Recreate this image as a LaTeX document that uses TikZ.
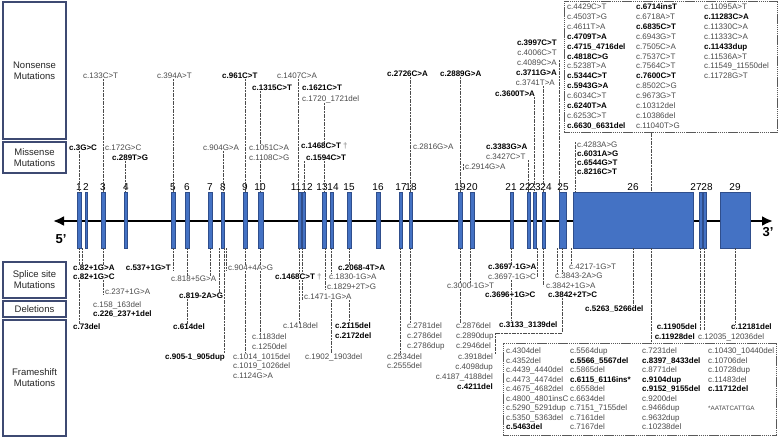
\documentclass[tikz,border=0pt]{standalone}
\usepackage{fontspec}
\setmainfont{Liberation Sans}
\usepackage{tikz}
\usetikzlibrary{positioning,arrows.meta}
\definecolor{exonblue}{HTML}{4472C4}
\definecolor{exonedge}{HTML}{2F4E8C}
\definecolor{boxnavy}{HTML}{3E4A72}
\definecolor{mutgray}{HTML}{4A4A4A}
\newcommand{\B}[1]{{\bfseries\color{black}#1}}
\newcommand{\cola}[1]{\makebox[69pt][l]{#1}}
\newcommand{\colb}[1]{\makebox[68pt][l]{#1}}
\newcommand{\colw}[2]{\makebox[#1][l]{#2}}
\tikzset{
  mut/.style={font=\fontsize{8}{9.5}\selectfont, text=mutgray, inner sep=0pt, anchor=west},
  bmut/.style={mut, font=\fontsize{8}{9.5}\selectfont\bfseries, text=black},
  conn/.style={black!70, line width=0.45pt, dash pattern=on 2pt off 0.7pt},
  exon/.style={fill=exonblue, draw=exonedge, line width=0.4pt, inner sep=0pt, minimum height=56pt},
  exnum/.style={font=\fontsize{10}{12}\selectfont, inner sep=0pt},
  catbox/.style={draw=boxnavy, line width=1.2pt, fill=white, align=center, inner sep=0pt,
    text=black!85, font=\fontsize{9.5}{11}\selectfont},
  mutbox/.style={draw=black!65, line width=0.5pt, dash pattern=on 1.5pt off 0.6pt, inner sep=0pt},
  mutlist/.style={anchor=north west, inner sep=0pt, align=left, text=mutgray}
}

\begin{document}
\begin{tikzpicture}[x=1pt,y=-1pt]
\useasboundingbox (0,0) rectangle (779,437);

% category boxes
\node[catbox, minimum width=63pt, minimum height=137pt] (nons) at (34.5,70.5) {Nonsense\\Mutations};
\node[catbox, minimum width=63pt, minimum height=31pt] (miss) at (34.5,157.5) {Missense\\Mutations};
\node[catbox, minimum width=63pt, minimum height=36pt] (spl) at (34.5,280) {Splice site\\Mutations};
\node[catbox, minimum width=63pt, minimum height=16pt] (dels) at (34.5,309) {Deletions};
\node[catbox, minimum width=63pt, minimum height=116pt] (fs) at (34.5,378) {Frameshift\\Mutations};

% gene line and exons
\coordinate (g5) at (53,221);
\coordinate (g3) at (773,221);
\draw[line width=2.5pt, {Latex[length=11pt,width=10pt]}-{Latex[length=11pt,width=10pt]}] (g5) -- (g3);
\node[font=\fontsize{13}{14}\selectfont\bfseries] (p5) at (61,239) {5’};
\node[font=\fontsize{13}{14}\selectfont\bfseries] (p3) at (768,232) {3’};

\foreach \n/\x/\w in {1/79/4.5, 2/86/2.5, 3/103/3.5, 4/125.5/3.5, 5/173/3.5, 6/187/3.5,
  7/210/3.5, 8/223/3, 9/245/4, 10/260.5/4.5, 11/299.5/3, 12/304/3, 13/324/3.5,
  14/331.5/3.5, 15/349/3.5, 16/378/3.5, 17/400.5/3.5, 18/410.5/3.5, 19/460/3.5,
  20/472/3.5, 21/511.5/3.5, 22/528.5/3, 23/534.5/3, 24/543.5/3, 25/562.5/7,
  26/633/120, 27/700.5/3, 28/704.5/3, 29/735/30}
  \node[exon, minimum width=\w pt] (e\n) at (\x,220) {};

\foreach \n/\x in {1/79, 2/86, 3/103, 4/126, 5/173, 6/187, 7/210, 8/223, 9/245, 10/260,
  11/296, 12/307, 13/322, 14/333, 15/349, 16/378, 17/401, 18/411, 19/460, 20/472,
  21/511, 22/525, 23/535, 24/546, 25/563, 26/633, 27/696, 28/707, 29/735}
  \node[exnum] (n\n) at (\x,187) {\n};

% nonsense (top)
\node[mut] (t133) at (83,76) {c.133C>T};
\node[mut] (t394) at (157,76) {c.394A>T};
\node[bmut] (t961) at (222,76) {c.961C>T};
\node[mut] (t1407) at (277,76) {c.1407C>A};
\node[bmut] (t1315) at (252,88) {c.1315C>T};
\node[bmut] (t1621) at (302,88) {c.1621C>T};
\node[mut] (t1720) at (302,99) {c.1720\_1721del};
\node[bmut] (t2726) at (387,74) {c.2726C>A};
\node[bmut] (t2889) at (440,74) {c.2889G>A};
\node[bmut, anchor=east] (t3997) at (557,43) {c.3997C>T};
\node[mut, anchor=east] (t4006) at (557,53) {c.4006C>T};
\node[mut, anchor=east] (t4089) at (557,63) {c.4089C>A};
\node[bmut, anchor=east] (t3711) at (557,73) {c.3711G>A};
\node[mut, anchor=east] (t3741) at (555,83) {c.3741T>A};
\node[bmut] (t3600) at (495,94) {c.3600T>A};

\node[mutbox, minimum width=213pt, minimum height=131pt, anchor=north west] (tbox) at (564,1) {};
\node[mutlist, font=\fontsize{8}{9.9}\selectfont] (tlist) at (567,3.5) {%
\cola{c.4429C>T}\colb{\B{c.6714insT}}c.11095A>T\\
\cola{c.4503T>G}\colb{c.6718A>T}\B{c.11283C>A}\\
\cola{c.4611T>A}\colb{\B{c.6835C>T}}c.11330C>A\\
\cola{\B{c.4709T>A}}\colb{c.6943G>T}c.11333C>A\\
\cola{\B{c.4715\_4716del}}\colb{c.7505C>A}\B{c.11433dup}\\
\cola{\B{c.4818C>G}}\colb{c.7537C>T}c.11536A>T\\
\cola{c.5238T>A}\colb{c.7564C>T}c.11549\_11550del\\
\cola{\B{c.5344C>T}}\colb{\B{c.7600C>T}}c.11728G>T\\
\cola{\B{c.5943G>A}}\colb{c.8502C>G}\\
\cola{c.6034C>T}\colb{c.9673G>T}\\
\cola{\B{c.6240T>A}}\colb{c.10312del}\\
\cola{c.6253C>T}\colb{c.10386del}\\
\cola{\B{c.6630\_6631del}}\colb{c.11040T>G}};

% missense (top)
\node[bmut] (s3) at (69,148) {c.3G>C};
\node[mut] (s172) at (105,148) {c.172G>C};
\node[bmut] (s289) at (112,158) {c.289T>G};
\node[mut] (s904) at (203,148) {c.904G>A};
\node[mut] (s1051) at (249,148) {c.1051C>A};
\node[mut] (s1108) at (249,158) {c.1108C>G};
\node[bmut] (s1468) at (301,146) {c.1468C>T \textcolor{black!40}{†}};
\node[bmut] (s1594) at (306,158) {c.1594C>T};
\node[mut] (s2816) at (413,147) {c.2816G>A};
\node[mut] (s2914) at (465,167) {c.2914G>A};
\node[bmut] (s3383) at (486,147) {c.3383G>A};
\node[mut] (s3427) at (486,157) {c.3427C>T};
\node[mut] (s4283) at (577,145) {c.4283A>G};
\node[bmut] (s6031) at (577,154) {c.6031A>G};
\node[bmut] (s6544) at (577,163) {c.6544G>T};
\node[bmut] (s8216) at (577,172) {c.8216C>T};

% top connectors
\draw[conn] (t133.south -| e3) -- (e3.north);
\draw[conn] (t394.south -| e5) -- (e5.north);
\draw[conn] (t961.south -| e9) -- (e9.north);
\draw[conn] (t1407.south -| e11.west) -- (e11.north west);
\draw[conn] (t1315.south -| e10) -- (s1051.north -| e10);
\draw[conn] (s1108.south -| e10) -- (e10.north);
\draw[conn] (t1720.south -| e13) -- (s1468.north -| e13);
\draw[conn] (s1594.south -| e13) -- (e13.north);
\draw[conn] (s1594.south -| e12) -- (e12.north);
\draw[conn] (t2726.south -| e18) -- (e18.north);
\draw[conn] (t2889.south -| e19) -- (e19.north);
\draw[conn] (t3600.south -| e23) -- (e23.north);
\draw[conn] (t3741.south -| e24) -- (e24.north);
\draw[conn] (t4089.north -| e25.west) -- (e25.north west);
\draw[conn] (s3.south -| e1) -- (e1.north);
\draw[conn] (s289.south -| e4) -- (e4.north);
\draw[conn] (s904.south -| e8) -- (e8.north);
\draw[conn] (s3427.south -| e22) -- (e22.north);
\draw[conn] ([xshift=-1.5pt]s2914.north west) -- ([xshift=-1.5pt]s2914.south west);
\draw[conn] ([xshift=-2pt]s4283.north west) -- ([xshift=-2pt]s8216.south west) -- ([xshift=-2pt]s8216.south west |- e26.north);
\draw[conn] ([xshift=-20pt]tbox.south) -- ([xshift=-20pt]tbox.south |- e26.north);

% splice site, deletions, frameshift (bottom)
\node[bmut] (b82A) at (73,268) {c.82+1G>A};
\node[bmut] (b82C) at (73,277) {c.82+1G>C};
\node[mut] (b237) at (105,292) {c.237+1G>A};
\node[mut] (b158) at (93,305) {c.158\_163del};
\node[bmut] (b226) at (93,314) {c.226\_237+1del};
\node[bmut] (b73) at (73,327) {c.73del};
\node[bmut, anchor=east] (b537) at (171,268) {c.537+1G>T};
\node[mut] (b818) at (171,279) {c.818+5G>A};
\node[bmut] (b819) at (179,296) {c.819-2A>G};
\node[bmut] (b614) at (173,327) {c.614del};
\node[bmut] (b905) at (165,357) {c.905-1\_905dup};
\node[mut] (b904) at (228,268) {c.904+4A>G};
\node[mut] (b1014) at (233,357) {c.1014\_1015del};
\node[mut] (b1019) at (233,366) {c.1019\_1026del};
\node[mut] (b1124) at (233,376) {c.1124G>A};
\node[mut] (b1183) at (252,337) {c.1183del};
\node[mut] (b1250) at (252,347) {c.1250del};
\node[mut] (b1418) at (283,326) {c.1418del};
\node[bmut] (b1468) at (275,277) {c.1468C>T \textcolor{black!40}{†}};
\node[mut] (b1830) at (329,277) {c.1830-1G>A};
\node[mut] (b1829) at (327,287) {c.1829+2T>G};
\node[mut] (b1471) at (304,297) {c.1471-1G>A};
\node[bmut] (b2068) at (338,268) {c.2068-4T>A};
\node[bmut] (b2115) at (335,326) {c.2115del};
\node[bmut] (b2172) at (335,336) {c.2172del};
\node[mut] (b1902) at (305,357) {c.1902\_1903del};
\node[mut] (b2534) at (387,357) {c.2534del};
\node[mut] (b2555) at (387,366) {c.2555del};
\node[mut] (b2781) at (407,326) {c.2781del};
\node[mut] (b2786) at (407,336) {c.2786del};
\node[mut] (b2786d) at (407,346) {c.2786dup};
\node[mut] (b3000) at (447,286) {c.3000-1G>T};
\node[mut] (b2876) at (456,326) {c.2876del};
\node[mut] (b2890) at (456,336) {c.2890dup};
\node[mut] (b2946) at (456,346) {c.2946del};
\node[mut, anchor=east] (b3918) at (493,357) {c.3918del};
\node[mut, anchor=east] (b4098) at (493,367) {c.4098dup};
\node[mut, anchor=east] (b4187) at (493,377) {c.4187\_4188del};
\node[bmut, anchor=east] (b4211) at (493,387) {c.4211del};
\node[bmut] (b3697A) at (488,267) {c.3697-1G>A};
\node[mut] (b3697C) at (488,277) {c.3697-1G>C};
\node[bmut] (b3696) at (485,295) {c.3696+1G>C};
\node[bmut] (b3133) at (499,325) {c.3133\_3139del};
\node[mut] (b4217) at (569,267) {c.4217-1G>T};
\node[mut] (b3843) at (555,276) {c.3843-2A>G};
\node[mut] (b3842A) at (546,286) {c.3842+1G>A};
\node[bmut] (b3842T) at (548,295) {c.3842+2T>C};
\node[bmut] (b5263) at (585,309) {c.5263\_5266del};
\node[bmut, anchor=east] (b11905) at (697,327) {c.11905del};
\node[bmut, anchor=east] (b11928) at (695,337) {c.11928del};
\node[bmut] (b12181) at (731,327) {c.12181del};
\node[mut] (b12035) at (698,337) {c.12035\_12036del};

\node[mutbox, minimum width=273pt, minimum height=92pt, anchor=north west] (bbox) at (503,343) {};
\node[mutlist, font=\fontsize{8}{9.5}\selectfont] (blist) at (506,347.5) {%
\colw{64pt}{c.4304del}\colw{72pt}{c.5564dup}\colw{66pt}{c.7231del}c.10430\_10440del\\
\colw{64pt}{c.4352del}\colw{72pt}{\B{c.5566\_5567del}}\colw{66pt}{\B{c.8397\_8433del}}c.10706del\\
\colw{64pt}{c.4439\_4440del}\colw{72pt}{c.5865del}\colw{66pt}{c.8771del}c.10728dup\\
\colw{64pt}{c.4473\_4474del}\colw{72pt}{\B{c.6115\_6116ins*}}\colw{66pt}{\B{c.9104dup}}c.11483del\\
\colw{64pt}{c.4675\_4682del}\colw{72pt}{c.6558del}\colw{66pt}{\B{c.9152\_9155del}}\B{c.11712del}\\
\colw{64pt}{c.4800\_4801insC}\colw{72pt}{c.6634del}\colw{66pt}{c.9200del}\\
\colw{64pt}{c.5290\_5291dup}\colw{72pt}{c.7151\_7155del}\colw{66pt}{c.9466dup}{\fontsize{6.3}{7}\selectfont *AATATCATTGA}\\
\colw{64pt}{c.5350\_5363del}\colw{72pt}{c.7161del}\colw{66pt}{c.9632dup}\\
\colw{64pt}{\B{c.5463del}}\colw{72pt}{c.7167del}\colw{66pt}{c.10238del}};

% bottom connectors
\coordinate (k25) at (495,333);
\draw[conn] (e1.south) -- (e1.south |- b82A.north);
\draw[conn] ([xshift=3pt]e1.south) -- ([xshift=3pt]e1.south |- b82A.north);
\draw[conn] (b82C.south -| e1) -- (b73.north -| e1);
\draw[conn] (e3.south) -- (e3.south |- b82A.north);
\draw[conn] (b82C.south -| e3) -- (b237.south -| e3);
\draw[conn] (e5.south) -- (e5.south |- b537.south);
\draw[conn] (e6.south) -- (e6.south |- b818.north);
\draw[conn] (b819.south -| e6) -- (b614.north -| e6);
\draw[conn] (e7.south) -- (e7.south |- b818.north);
\draw[conn] ([xshift=-4pt]e8.south) -- ([xshift=-4pt]e8.south |- b819.north);
\draw[conn] ([xshift=1pt]e8.south) -- ([xshift=1pt]e8.south |- b905.north);
\draw[conn] ([xshift=3.5pt]e8.south) -- ([xshift=3.5pt]e8.south |- b904.south);
\draw[conn] (e9.south) -- (e9.south |- b904.north);
\draw[conn] (b904.south -| e9) -- (b1014.north -| e9);
\draw[conn] (e10.south) -- (e10.south |- b904.north);
\draw[conn] (b904.south -| e10) -- (b1183.north -| e10);
\draw[conn] (e11.south) -- (e11.south |- b1468.north);
\draw[conn] (b1468.south -| e11) -- (b1418.north -| e11);
\draw[conn] ([xshift=-1.5pt]e12.south) -- ([xshift=-1.5pt]e12.south |- b1468.north);
\draw[conn] ([xshift=-1.5pt]b1468.south -| e12) -- ([xshift=-1.5pt]b1471.south -| e12);
\draw[conn] ([xshift=1.5pt]e13.south) -- ([xshift=1.5pt]e13.south |- b1829.south);
\draw[conn] (e14.south) -- (e14.south |- b1830.north);
\draw[conn] (b1471.south -| e14) -- (b1902.north -| e14);
\draw[conn] (e15.south) -- (e15.south |- b2068.north);
\draw[conn] (b1471.south -| e15) -- (b2115.north -| e15);
\draw[conn] (e17.south) -- (e17.south |- b2534.north);
\draw[conn] (e18.south) -- (e18.south |- b2781.north);
\draw[conn] (e19.south) -- (e19.south |- b3000.north);
\draw[conn] (b3000.south -| e19) -- (b2876.north -| e19);
\draw[conn] ([xshift=-2pt]e20.south) -- ([xshift=-2pt]e20.south |- b3000.north);
\draw[conn] (e21.south) -- (e21.south |- b3697A.north);
\draw[conn] (b3697C.south -| e21) -- (b3696.north -| e21);
\draw[conn] (b3696.south -| e21) -- (b3133.north -| e21);
\draw[conn] ([xshift=2.5pt]e23.south) -- ([xshift=2.5pt]e23.south |- b3697C.east);
\draw[conn] (e24.south) -- (e24.south |- b3842A.east);
\draw[conn] ([xshift=-5pt]e25.south) -- ([xshift=-5pt]e25.south |- b3843.north);
\draw[conn] (e25.south) -- (e25.south |- b3843.north);
\draw[conn] (b3842T.south -| e25) |- (k25) -- (k25 |- b3918.north);
\draw[conn] ([xshift=-2pt]e26.south west) -- ([xshift=-2pt]e26.south west |- b4217.north);
\draw[conn] (e26.south) -- (e26.south |- b5263.north);
\draw[conn] ([xshift=18pt]e26.south) -- ([xshift=18pt]e26.south |- bbox.north);
\draw[conn] (e27.south) -- (e27.south |- b11905.south);
\draw[conn] (e28.south) -- (e28.south |- b11905.south);
\draw[conn] (e29.south) -- (e29.south |- b12181.north);
\end{tikzpicture}
\end{document}
